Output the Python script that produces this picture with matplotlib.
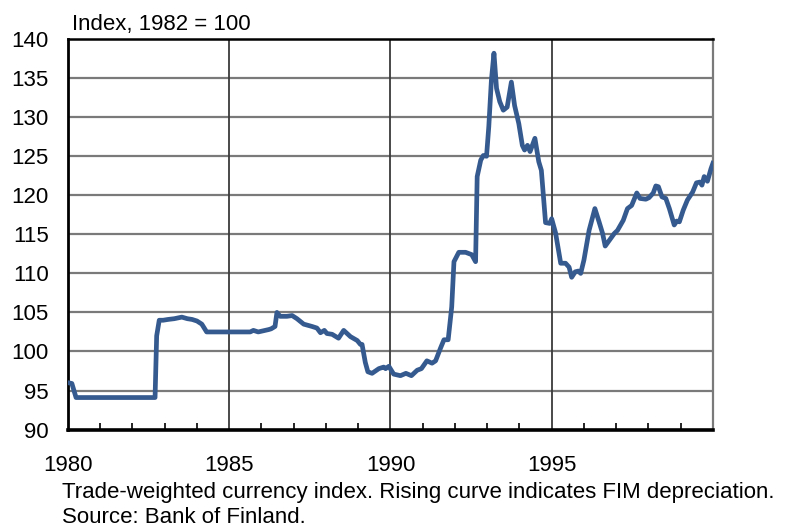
import matplotlib
matplotlib.use('Agg')
import matplotlib.pyplot as plt
from matplotlib.ticker import MultipleLocator

plt.rcParams['font.family'] = ['Liberation Sans', 'DejaVu Sans']

# Decimal year and trade-weighted currency index (1982 = 100)
years = [
    1980.00, 1980.12, 1980.25, 1980.40, 1981.00, 1981.50, 1982.00, 1982.50, 1982.70,
    1982.75, 1982.83, 1982.95, 1983.10, 1983.30, 1983.53, 1983.70, 1983.85, 1984.00,
    1984.15, 1984.30, 1984.60, 1985.00, 1985.40, 1985.65, 1985.75, 1985.90, 1986.22,
    1986.30, 1986.42, 1986.48, 1986.58, 1986.79, 1986.95, 1987.10, 1987.31, 1987.57,
    1987.72, 1987.83, 1987.95, 1988.03, 1988.19, 1988.39, 1988.55, 1988.76, 1988.97,
    1989.07, 1989.12, 1989.22, 1989.30, 1989.43, 1989.64, 1989.79, 1989.85, 1989.95,
    1990.10, 1990.31, 1990.48, 1990.65, 1990.83, 1990.96, 1991.13, 1991.29, 1991.40,
    1991.55, 1991.66, 1991.79, 1991.90, 1991.97, 1992.12, 1992.33, 1992.52, 1992.64,
    1992.69, 1992.80, 1992.88, 1992.98, 1993.05, 1993.13, 1993.21, 1993.29, 1993.39,
    1993.50, 1993.62, 1993.75, 1993.85, 1993.98, 1994.09, 1994.16, 1994.25, 1994.33,
    1994.48, 1994.60, 1994.68, 1994.81, 1994.94, 1995.00, 1995.12, 1995.28, 1995.43,
    1995.54, 1995.62, 1995.73, 1995.83, 1995.90, 1996.00, 1996.16, 1996.34, 1996.47,
    1996.58, 1996.66, 1996.80, 1996.94, 1997.04, 1997.22, 1997.35, 1997.48, 1997.56,
    1997.64, 1997.74, 1997.92, 1998.02, 1998.15, 1998.23, 1998.31, 1998.42, 1998.54,
    1998.65, 1998.80, 1998.88, 1998.96, 1999.08, 1999.21, 1999.37, 1999.49, 1999.60,
    1999.66, 1999.73, 1999.83, 1999.94, 2000.00,
]
index_values = [
    96.0, 95.9, 94.1, 94.1, 94.1, 94.1, 94.1, 94.1, 94.1,
    102.0, 104.0, 104.0, 104.1, 104.2, 104.4, 104.2, 104.1, 103.9,
    103.5, 102.5, 102.5, 102.5, 102.5, 102.5, 102.7, 102.5, 102.8,
    102.9, 103.2, 105.0, 104.5, 104.5, 104.6, 104.2, 103.5, 103.2,
    103.0, 102.4, 102.7, 102.3, 102.2, 101.7, 102.7, 101.9, 101.4,
    100.9, 100.9, 98.6, 97.4, 97.2, 97.8, 98.0, 97.8, 98.1,
    97.1, 96.9, 97.2, 96.9, 97.6, 97.8, 98.8, 98.5, 98.8,
    100.4, 101.5, 101.5, 105.7, 111.5, 112.7, 112.7, 112.4, 111.5,
    122.4, 124.5, 125.1, 125.0, 128.8, 134.7, 138.2, 133.7, 132.0,
    130.9, 131.3, 134.5, 131.5, 129.2, 126.4, 125.8, 126.4, 125.6,
    127.3, 124.3, 123.2, 116.5, 116.4, 117.0, 115.2, 111.3, 111.3,
    110.8, 109.5, 110.2, 110.3, 110.0, 111.7, 115.5, 118.3, 116.6,
    115.1, 113.5, 114.3, 115.1, 115.5, 116.8, 118.3, 118.7, 119.5,
    120.3, 119.6, 119.5, 119.7, 120.3, 121.2, 121.1, 119.8, 119.6,
    118.3, 116.2, 116.7, 116.6, 118.1, 119.4, 120.4, 121.6, 121.7,
    121.3, 122.4, 121.8, 123.4, 124.1,
]
year_ticks = [1980, 1985, 1990, 1995]

fig = plt.figure(figsize=(7.86, 5.29), dpi=100)
ax = fig.add_axes([0.0865, 0.188, 0.8205, 0.738])

ax.plot(years, index_values, color='#355a8f', linewidth=3.4, solid_joinstyle='round',
        zorder=3)

ax.set_xlim(1980, 2000)
ax.set_ylim(90, 140)
ax.set_yticks(range(90, 141, 5))
ax.set_xticks(year_ticks)
ax.xaxis.set_minor_locator(MultipleLocator(1))

# grid: grey horizontal lines, dark vertical lines at 5-year marks
for v in range(95, 140, 5):
    ax.axhline(v, color='#7a7a7a', linewidth=1.6, zorder=1)
for yr in year_ticks[1:]:
    ax.axvline(yr, color='#3a3a3a', linewidth=1.3, zorder=1)

ax.tick_params(axis='y', length=0, pad=14, labelsize=16)
ax.tick_params(axis='x', which='major', direction='in', length=0, pad=18, labelsize=16)
ax.tick_params(axis='x', which='minor', direction='in', length=5, width=1.2)

ax.spines['left'].set_linewidth(2.0)
ax.spines['bottom'].set_linewidth(2.6)
ax.spines['top'].set_linewidth(1.8)
ax.spines['right'].set_color('#7a7a7a')
ax.spines['right'].set_linewidth(1.6)

fig.text(0.092, 0.943, 'Index, 1982 = 100', fontsize=16, ha='left', va='baseline')
fig.text(0.079, 0.0586, 'Trade-weighted currency index. Rising curve indicates FIM depreciation.',
         fontsize=16, ha='left', va='baseline')
fig.text(0.079, 0.0113, 'Source: Bank of Finland.', fontsize=16, ha='left', va='baseline')

fig.savefig('out.png', dpi=100)
